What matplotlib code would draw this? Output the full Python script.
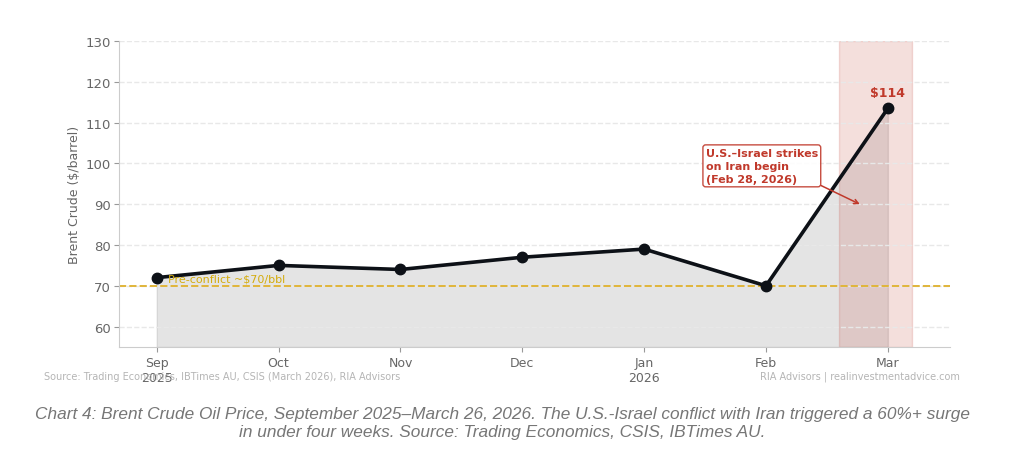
"""Brent crude chart."""
import matplotlib.pyplot as plt

months = ["Sep\n2025", "Oct", "Nov", "Dec", "Jan\n2026", "Feb", "Mar"]
prices = [72, 75, 74, 77, 79, 70, 113.5]
y_ticks = [60, 70, 80, 90, 100, 110, 120, 130]
pre_conflict = 70
band_start, band_end = 5.6, 6.2

RED = "#c0392b"
GOLD = "#e0b53a"
GREY = "#666666"


def main():
    dpi = 100
    fig = plt.figure(dpi=dpi, figsize=(1024 / dpi, 456 / dpi))
    axes = fig.add_axes([119 / 1024, 1 - 348 / 456, 831 / 1024, 306 / 456])
    x_vals = list(range(len(months)))

    axes.yaxis.grid(True, color="#e8e8e8", linestyle="--", linewidth=1, zorder=0)
    axes.fill_between(x_vals, prices, 55, color="#888888", alpha=0.22, zorder=1)
    axes.axvspan(band_start, band_end, color=RED, alpha=0.16, zorder=1)
    axes.axhline(pre_conflict, color=GOLD, linestyle="--", linewidth=1.4, zorder=2)
    axes.plot(x_vals, prices, color="#0d1117", linewidth=2.6, marker="o",
              markersize=7.5, zorder=3)

    axes.text(0.09, 71.9, "Pre-conflict ~$70/bbl", color="#d4ac0d", fontsize=8,
              va="center", zorder=4)
    axes.text(6, 115.7, "$114", color=RED, fontsize=9, fontweight="bold",
              ha="center", va="bottom", zorder=4)
    axes.annotate("U.S.–Israel strikes\non Iran begin\n(Feb 28, 2026)",
                  xy=(5.77, 90), xytext=(4.505, 99.4), color=RED, fontsize=8,
                  fontweight="bold", va="center", ha="left", zorder=5,
                  linespacing=1.4,
                  bbox={"boxstyle": "round,pad=0.25", "facecolor": "white",
                        "edgecolor": RED, "linewidth": 1, "alpha": 0.9},
                  arrowprops={"arrowstyle": "->", "color": RED, "linewidth": 1.1,
                              "shrinkA": 0, "shrinkB": 0,
                              "relpos": (1, 0)})

    axes.set_xlim(-0.31, 6.51)
    axes.set_ylim(55, 130)
    axes.set_xticks(x_vals, months)
    axes.set_yticks(y_ticks)
    axes.set_ylabel("Brent Crude ($/barrel)", color=GREY, fontsize=9, labelpad=3)
    axes.tick_params(axis="x", colors=GREY, labelsize=9, length=3.5, width=0.8,
                     color="#999999", pad=3)
    axes.tick_params(axis="y", colors=GREY, labelsize=9.5, length=3.5, width=0.8,
                     color="#999999", pad=2.5)
    for name in ("top", "right"):
        axes.spines[name].set_visible(False)
    for name in ("left", "bottom"):
        axes.spines[name].set_color("#cccccc")

    fig.text(44 / 1024, 1 - 377 / 456,
             "Source: Trading Economics, IBTimes AU, CSIS (March 2026), RIA Advisors",
             color="#b5b5b5", fontsize=7, va="center")
    fig.text(960 / 1024, 1 - 377 / 456, "RIA Advisors | realinvestmentadvice.com",
             color="#b5b5b5", fontsize=7, va="center", ha="right")
    fig.text(502.5 / 1024, 1 - 424 / 456,
             "Chart 4: Brent Crude Oil Price, September 2025–March 26, 2026. "
             "The U.S.-Israel conflict with Iran triggered a 60%+ surge\n"
             "in under four weeks. Source: Trading Economics, CSIS, IBTimes AU.",
             color="#767676", fontsize=12.4, style="italic", ha="center",
             va="center", family="Liberation Sans", linespacing=1.25)

    fig.savefig("out.png", dpi=dpi)


if __name__ == "__main__":
    main()
